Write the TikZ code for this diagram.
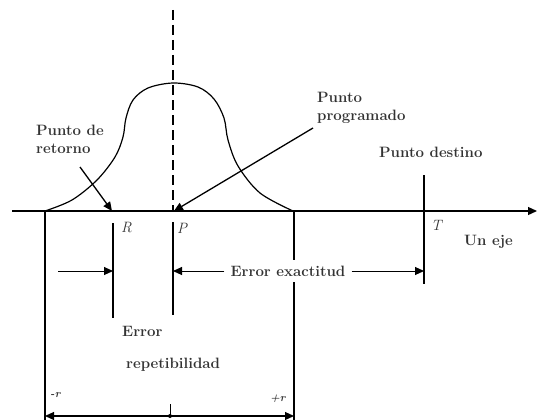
\documentclass[tikz,border=0pt]{standalone}
\usetikzlibrary{arrows.meta}
\begin{document}
\begin{tikzpicture}[x=1pt,y=-1pt,
  ln/.style={line width=1.3pt, black},
  tip/.style={-{Triangle[length=9pt,width=8pt]}},
  lbl/.style={font=\fontsize{15}{17}\selectfont\bfseries, text=black!80, inner sep=1pt},
  ital/.style={font=\fontsize{15}{16}\selectfont\itshape, inner sep=0pt, text=black!80},
  small/.style={font=\fontsize{11}{12}\selectfont\itshape\bfseries, inner sep=0pt, text=black!80}]
\useasboundingbox (0,0) rectangle (538,420);
% axis
\coordinate (axL) at (12,211);
\coordinate (axR) at (537,211);
\draw[ln, tip] (axL) -- (axR);
% dashed center line
\coordinate (dTop) at (173,10);
\coordinate (dBot) at (173,211);
\draw[ln, dash pattern=on 10pt off 5pt] (dTop) -- (dBot);
% bell curve
\draw[ln, line width=1.2pt] plot[smooth, tension=0.55] coordinates {(45,211) (72,200) (97,180) (115,157) (123,137) (126,118) (133,100) (148,88) (173,83) (198,87) (214,99) (224,118) (228,140) (238,166) (260,193) (293,211)};
% vertical lines
\coordinate (lTop) at (45,211);  \coordinate (lBot) at (45,420);
\draw[ln] (lTop) -- (lBot);
\coordinate (rTop) at (294,211); \coordinate (rBot) at (294,420);
\draw[ln] (rTop) -- (rBot);
\coordinate (Rt) at (113,223); \coordinate (Rb) at (113,318);
\draw[ln] (Rt) -- (Rb);
\coordinate (Pt) at (173,222); \coordinate (Pb) at (173,315);
\draw[ln] (Pt) -- (Pb);
\coordinate (Tt) at (424,175); \coordinate (Tb) at (424,284);
\draw[ln] (Tt) -- (Tb);
% labels R P T
\node[ital, anchor=west] (R) at (121,228) {R};
\node[ital, anchor=west] (P) at (177,228) {P};
\node[ital, anchor=west] (T) at (431,225) {T};
% text labels
\node[lbl, align=left, anchor=west] (ret) at (35,139) {Punto de\\[1pt]retorno};
\node[lbl, align=left, anchor=west] (prog) at (316,108) {Punto\\[1pt]programado};
\node[lbl, anchor=west] (dest) at (378,152) {Punto destino};
\node[lbl, anchor=west] (eje) at (463,242) {Un eje};
\node[lbl, anchor=west] (err) at (121,331) {Error};
\node[lbl, anchor=west] (rep) at (125,365) {repetibilidad};
% pointer arrows
\coordinate (retS) at (80,167); \coordinate (retE) at (112,211);
\draw[ln, tip] (retS) -- (retE);
\coordinate (progS) at (313,128); \coordinate (progE) at (174,211);
\draw[ln, tip] (progS) -- (progE);
% repetibilidad arrow
\coordinate (rpS) at (58,271); \coordinate (rpE) at (113,271);
\draw[line width=1pt, tip] (rpS) -- (rpE);
% error exactitud
\node[lbl, fill=white, inner xsep=6pt, inner ysep=6pt] (exa) at (288,271) {Error exactitud};
\coordinate (exP) at (173,271); \coordinate (exT) at (424,271);
\draw[line width=1pt, tip] (exa.west) -- (exP);
\draw[line width=1pt, tip] (exa.east) -- (exT);
% bottom range
\coordinate (bL) at (45,416); \coordinate (bR) at (294,416);
\draw[line width=1.2pt, {Triangle[length=9pt,width=8pt]}-{Triangle[length=9pt,width=8pt]}] (bL) -- (bR);
\coordinate (tkT) at (170,404); \coordinate (tkB) at (170,416);
\draw[line width=0.8pt] (tkT) -- (tkB);
\fill (tkB) circle (2pt);
\node[small, anchor=west] (mr) at (50,395) {-r};
\node[small, anchor=west] (pr) at (270,399) {+r};
\end{tikzpicture}
\end{document}
